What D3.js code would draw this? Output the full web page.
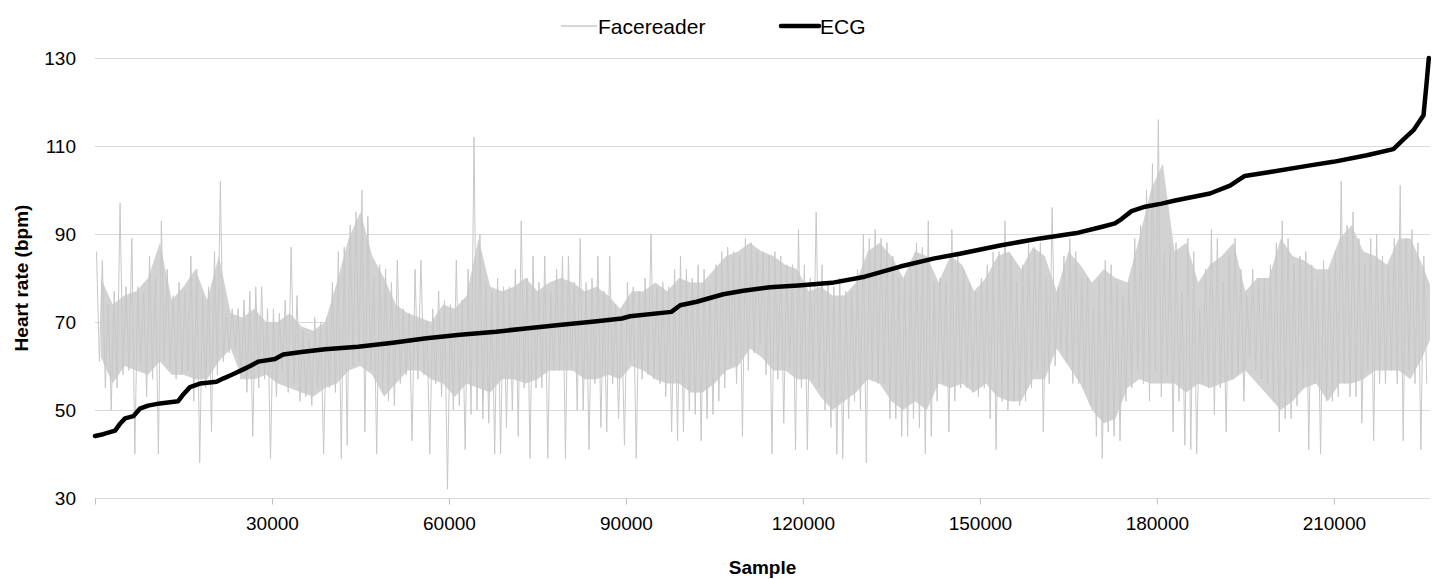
<!DOCTYPE html>
<html>
<head>
<meta charset="utf-8">
<script src="https://cdn.jsdelivr.net/npm/d3@7"></script>
<style>
  body { margin: 0; background: #fff; }
  text { font-family: "Liberation Sans", Arial, sans-serif; fill: #000; }
</style>
</head>
<body>
<div id="chart"></div>
<script>

// --- Facereader: highest / lowest reading in every block of 1000 samples
var binSize = 1000;
var faceHigh = [
  86, 84, 74, 77, 97, 78, 89, 78, 77, 85,
  80, 93, 82, 76, 79, 77, 85, 82, 76, 78,
  86, 102, 72, 73, 73, 75, 77, 78, 78, 73,
  73, 72, 75, 87, 76, 68, 66, 71, 70, 71,
  79, 86, 87, 92, 95, 100, 94, 80, 83, 82,
  79, 84, 73, 72, 82, 84, 70, 73, 77, 75,
  74, 84, 75, 82, 112, 90, 79, 77, 80, 78,
  78, 82, 93, 80, 85, 79, 85, 77, 82, 85,
  85, 79, 89, 79, 80, 85, 77, 85, 74, 73,
  79, 78, 77, 80, 90, 78, 79, 78, 82, 85,
  82, 80, 83, 82, 78, 83, 86, 87, 86, 85,
  89, 88, 86, 86, 85, 86, 85, 83, 83, 91,
  83, 80, 95, 83, 79, 78, 80, 77, 77, 82,
  90, 89, 91, 89, 88, 85, 80, 80, 83, 88,
  87, 93, 79, 80, 79, 91, 86, 82, 79, 77,
  80, 83, 86, 86, 93, 85, 79, 83, 88, 87,
  88, 80, 96, 78, 85, 89, 86, 80, 80, 73,
  80, 84, 83, 79, 76, 79, 89, 92, 100, 106,
  116, 86, 88, 88, 77, 89, 86, 73, 82, 91,
  89, 79, 85, 89, 82, 76, 82, 80, 80, 83,
  88, 93, 89, 83, 85, 86, 83, 80, 84, 82,
  86, 102, 92, 95, 89, 83, 89, 90, 85, 83,
  89, 101, 89, 91, 88, 85
];
var faceLow = [
  61, 55, 50, 55, 58, 59, 40, 60, 53, 57,
  40, 61, 59, 57, 58, 59, 52, 38, 55, 45,
  58, 61, 63, 64, 57, 54, 44, 55, 57, 39,
  53, 59, 54, 56, 52, 53, 51, 55, 40, 55,
  54, 39, 42, 60, 61, 45, 59, 40, 54, 52,
  51, 56, 58, 43, 57, 58, 40, 56, 53, 32,
  50, 51, 41, 49, 50, 48, 47, 40, 40, 46,
  50, 44, 55, 39, 55, 55, 39, 59, 59, 39,
  59, 50, 50, 41, 56, 46, 45, 56, 48, 42,
  61, 39, 57, 58, 57, 56, 53, 45, 43, 45,
  50, 49, 43, 48, 49, 52, 55, 60, 56, 44,
  59, 63, 65, 58, 40, 57, 47, 59, 41, 55,
  41, 57, 55, 50, 46, 40, 39, 48, 52, 50,
  38, 57, 56, 56, 48, 48, 44, 44, 48, 46,
  40, 44, 52, 56, 45, 52, 55, 55, 54, 53,
  55, 48, 41, 52, 50, 52, 51, 52, 55, 59,
  45, 56, 60, 64, 61, 56, 56, 55, 51, 44,
  39, 45, 44, 43, 52, 55, 59, 56, 52, 59,
  53, 58, 45, 52, 42, 41, 40, 56, 55, 49,
  55, 45, 57, 58, 52, 62, 59, 57, 56, 52,
  45, 48, 48, 51, 55, 41, 56, 40, 52, 52,
  53, 56, 53, 53, 47, 59, 43, 56, 56, 59,
  56, 43, 59, 56, 41, 56
];

// --- Facereader: edges of the dense band, every 2000 samples
var bandSize = 2000;
var bandTop = [
  80, 74, 76, 77, 80, 88, 75, 78, 82, 75,
  85, 72, 71, 73, 70, 70, 72, 69, 68, 70,
  79, 89, 95, 85, 80, 74, 72, 71, 70, 74,
  73, 76, 89, 78, 77, 78, 80, 77, 79, 80,
  79, 77, 78, 76, 73, 77, 77, 79, 77, 80,
  79, 79, 82, 85, 86, 88, 86, 85, 83, 82,
  77, 78, 76, 76, 79, 86, 88, 85, 80, 86,
  85, 79, 85, 83, 77, 80, 85, 86, 82, 87,
  85, 77, 86, 83, 79, 82, 80, 79, 89, 100,
  106, 86, 88, 79, 83, 85, 88, 77, 80, 80,
  89, 85, 84, 82, 82, 89, 92, 86, 85, 83,
  89, 89, 83, 76
];
var bandBottom = [
  62, 56, 60, 59, 58, 61, 58, 58, 57, 57,
  61, 64, 57, 57, 58, 56, 55, 54, 53, 55,
  56, 59, 60, 58, 53, 56, 59, 59, 57, 56,
  53, 56, 55, 54, 57, 57, 56, 57, 59, 59,
  59, 57, 57, 58, 57, 60, 59, 57, 56, 56,
  54, 54, 56, 59, 60, 64, 62, 59, 59, 57,
  57, 53, 50, 52, 54, 57, 56, 52, 50, 52,
  50, 56, 55, 56, 54, 56, 53, 52, 52, 57,
  57, 64, 60, 56, 50, 47, 48, 55, 57, 56,
  56, 56, 54, 56, 55, 56, 57, 59, 56, 53,
  50, 52, 55, 56, 52, 56, 56, 57, 59, 59,
  59, 57, 62, 68
];

// --- ECG (sorted), read at its bends
var ecgSample = [0, 1400, 3400, 4200, 5100, 6500, 7600, 9000, 11000, 14100,
  15000, 16100, 17800, 20600, 21800, 23200, 25400, 26300, 27700, 30500,
  31900, 35000, 39000, 44600, 50500, 56200, 61900, 68000, 73400, 79100,
  84700, 89300, 90700, 97700, 99200, 102000, 106500, 109900, 114400, 119200,
  124900, 130500, 136500, 142100, 146600, 153400, 160200, 166700, 170600, 172900,
  174000, 175700, 178000, 180800, 183100, 189000, 192400, 194900, 199200, 206000,
  209900, 215600, 220100, 221800, 223500, 225200, 225700, 226100];
var ecgValue = [44.1, 44.5, 45.3, 46.8, 48.1, 48.6, 50.3, 51.0, 51.5, 52.0,
  53.6, 55.2, 56.0, 56.4, 57.2, 58.0, 59.4, 60.0, 61.0, 61.6,
  62.6, 63.2, 63.8, 64.4, 65.3, 66.3, 67.1, 67.8, 68.6, 69.4,
  70.1, 70.8, 71.3, 72.3, 73.8, 74.6, 76.3, 77.1, 77.9, 78.3,
  78.9, 80.3, 82.6, 84.4, 85.5, 87.4, 89.0, 90.3, 91.6, 92.4,
  93.4, 95.2, 96.2, 96.9, 97.6, 99.2, 101.0, 103.2, 104.1, 105.6,
  106.4, 107.9, 109.3, 111.5, 113.6, 117.0, 124.0, 130.0];

var yTicks = [30, 50, 70, 90, 110, 130];
var xTicks = [0, 30000, 60000, 90000, 120000, 150000, 180000, 210000];
var xMax = 226300;

var width = 1434;
var height = 579;

var svg = d3.select('#chart')
  .append('svg')
  .attr('width', width)
  .attr('height', height);

var x = d3.scaleLinear().domain([0, xMax]).range([95, 1430]);
var y = d3.scaleLinear().domain([30, 130]).range([498, 58]);

svg.append('clipPath')
  .attr('id', 'plot-clip')
  .append('rect')
  .attr('x', x(0)).attr('y', 0)
  .attr('width', x(xMax) - x(0)).attr('height', height);

// --- Gridlines
svg.append('g')
  .selectAll('line')
  .data(yTicks)
  .enter()
  .append('line')
  .attr('x1', x(0))
  .attr('x2', x(xMax))
  .attr('y1', function(d) { return Math.round(y(d)) + 0.5; })
  .attr('y2', function(d) { return Math.round(y(d)) + 0.5; })
  .attr('stroke', '#d9d9d9')
  .attr('stroke-width', 1);

// --- Y labels
svg.append('g')
  .selectAll('text')
  .data(yTicks)
  .enter()
  .append('text')
  .attr('x', 76)
  .attr('y', function(d) { return y(d); })
  .attr('dy', '0.36em')
  .attr('text-anchor', 'end')
  .style('font-size', '19px')
  .text(function(d) { return d; });

// --- X axis (ticks under the 30 line)
var xAxis = d3.axisBottom(x)
  .tickValues(xTicks)
  .tickSize(6)
  .tickPadding(12)
  .tickFormat(function(d) { return d === 0 ? '' : d; });

var gx = svg.append('g')
  .attr('transform', 'translate(0,' + (Math.round(y(30)) + 0.5) + ')')
  .call(xAxis);
gx.select('.domain').remove();
gx.selectAll('.tick line').attr('stroke', '#bfbfbf');
gx.selectAll('.tick text')
  .style('font-size', '19px')
  .style('font-family', '"Liberation Sans", Arial, sans-serif')
  .attr('fill', '#000');

var plot = svg.append('g').attr('clip-path', 'url(#plot-clip)');

// --- Facereader dense band
var band = d3.area()
  .x(function(d, i) { return x(i * bandSize + bandSize / 2); })
  .y0(function(d, i) { return y(bandBottom[i]); })
  .y1(function(d) { return y(d); });

plot.append('path')
  .datum(bandTop)
  .attr('fill', '#d2d2d2')
  .attr('d', band);

// --- Facereader line: high then low of each block
var facePoints = [];
for (var i = 0; i < faceHigh.length; i++) {
  facePoints.push([i * binSize + binSize * 0.25, faceHigh[i]]);
  facePoints.push([i * binSize + binSize * 0.75, faceLow[i]]);
}

var line = d3.line()
  .x(function(d) { return x(d[0]); })
  .y(function(d) { return y(d[1]); });

plot.append('path')
  .datum(facePoints)
  .attr('fill', 'none')
  .attr('stroke', '#c8c8c8')
  .attr('stroke-width', 1)
  .attr('d', line);

// --- ECG line
var ecgPoints = ecgSample.map(function(s, i) { return [s, ecgValue[i]]; });
svg.append('path')
  .datum(ecgPoints)
  .attr('fill', 'none')
  .attr('stroke', '#000')
  .attr('stroke-width', 4.5)
  .attr('stroke-linejoin', 'round')
  .attr('stroke-linecap', 'round')
  .attr('d', line);

// --- Axis titles
svg.append('text')
  .attr('x', (x(0) + x(xMax)) / 2)
  .attr('y', 574)
  .attr('text-anchor', 'middle')
  .style('font-size', '19px')
  .style('font-weight', 'bold')
  .text('Sample');

svg.append('text')
  .attr('transform', 'translate(28,' + (y(30) + y(130)) / 2 + ') rotate(-90)')
  .attr('text-anchor', 'middle')
  .style('font-size', '19px')
  .style('font-weight', 'bold')
  .text('Heart rate (bpm)');

// --- Legend
var legend = svg.append('g').attr('transform', 'translate(0,26)');
legend.append('line')
  .attr('x1', 561).attr('x2', 597)
  .attr('stroke', '#c8c8c8').attr('stroke-width', 1.3);
legend.append('text')
  .attr('x', 598).attr('dy', '0.36em')
  .style('font-size', '21px')
  .text('Facereader');
legend.append('line')
  .attr('x1', 781).attr('x2', 819)
  .attr('stroke', '#000').attr('stroke-width', 4.5)
  .attr('stroke-linecap', 'round');
legend.append('text')
  .attr('x', 820).attr('dy', '0.36em')
  .style('font-size', '21px')
  .text('ECG');

</script>
</body>
</html>
